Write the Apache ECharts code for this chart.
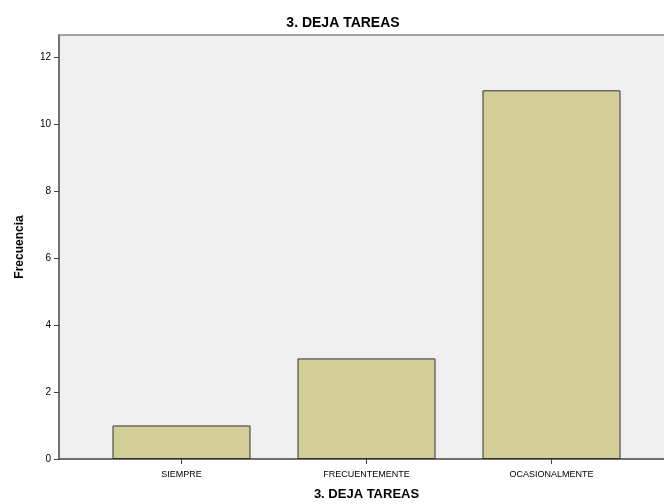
<!DOCTYPE html>
<html><head><meta charset="utf-8">
<script src="https://cdn.jsdelivr.net/npm/echarts@6/dist/echarts.min.js"></script>
<style>html,body{margin:0;padding:0;background:#fff}#c{width:664px;height:504px}</style>
</head><body><div id="c"></div>
<script>
const categories = ["SIEMPRE", "FRECUENTEMENTE", "OCASIONALMENTE"];
const frecuencia = [1, 3, 11];
const yTicks = [0, 2, 4, 6, 8, 10, 12];
const titleText = "3. DEJA TAREAS";
const yName = "Frecuencia";

const font = "'Liberation Sans', Arial, sans-serif";
const chart = echarts.init(document.getElementById('c'));
const yMax = 12.65;
chart.setOption({
  animation: false,
  backgroundColor: '#ffffff',
  title: {
    text: titleText, left: 338, top: 11, textAlign: 'center',
    textStyle: {fontFamily: font, fontSize: 14, fontWeight: 'bold', color: '#000'}
  },
  grid: [
    {left: 59, right: 0, top: 35, bottom: 45, show: true, backgroundColor: '#efefef', borderWidth: 0, outerBoundsMode: 'none', containLabel: false},
    {left: 89, right: 20, top: 35, bottom: 45, outerBoundsMode: 'none', containLabel: false}
  ],
  xAxis: [
    {gridIndex: 0, type: 'category', data: [''], position: 'bottom',
     axisLine: {lineStyle: {color: '#444', width: 1.5}}, axisTick: {show: false}, axisLabel: {show: false}},
    {gridIndex: 0, type: 'category', data: [''], position: 'top',
     axisLine: {lineStyle: {color: '#888', width: 1.5}}, axisTick: {show: false}, axisLabel: {show: false}},
    {gridIndex: 1, type: 'category', data: categories, position: 'bottom',
     axisLine: {show: false},
     axisTick: {show: true, alignWithLabel: true, length: 5, lineStyle: {color: '#444'}},
     axisLabel: {fontFamily: font, fontSize: 9, color: '#000', margin: 11},
     name: titleText, nameLocation: 'middle', nameGap: 29,
     nameTextStyle: {fontFamily: font, fontSize: 13, fontWeight: 'bold', color: '#000'}}
  ],
  yAxis: [
    {gridIndex: 0, type: 'value', min: 0, max: yMax,
     axisLine: {show: true, lineStyle: {color: '#444', width: 1.5}},
     axisTick: {show: true, length: 5, lineStyle: {color: '#444'}, customValues: yTicks},
     splitLine: {show: false},
     axisLabel: {fontFamily: font, fontSize: 10, color: '#000', margin: 8, customValues: yTicks},
     name: yName, nameLocation: 'middle', nameGap: 33, nameRotate: 90,
     nameTextStyle: {fontFamily: font, fontSize: 12, fontWeight: 'bold', color: '#000'}},
    {gridIndex: 1, type: 'value', min: 0, max: yMax, show: false}
  ],
  series: [{
    type: 'bar', xAxisIndex: 2, yAxisIndex: 1, data: frecuencia, barWidth: 138,
    itemStyle: {color: '#d3ce97', borderColor: '#333', borderWidth: 1}
  }]
});
</script></body></html>
